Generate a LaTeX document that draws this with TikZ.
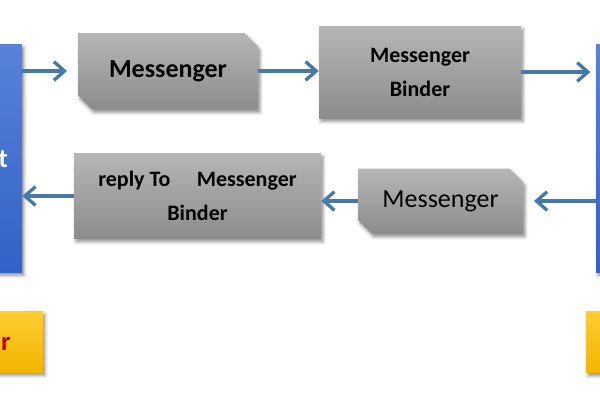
\documentclass[tikz,border=0pt]{standalone}
\usepackage{fontspec}
\setmainfont{Carlito}
\usetikzlibrary{arrows.meta,shapes.misc,shadows.blur}
\definecolor{arrowblue}{RGB}{70,120,170}
\definecolor{boxtop}{RGB}{182,182,182}
\definecolor{boxbot}{RGB}{140,140,140}
\definecolor{bluetop}{RGB}{88,130,218}
\definecolor{bluebot}{RGB}{50,98,200}
\definecolor{yeltop}{RGB}{255,204,50}
\definecolor{yelbot}{RGB}{242,182,0}
\definecolor{darkred}{RGB}{192,0,0}
\tikzset{
  shad/.style={blur shadow={shadow xshift=1.5pt, shadow yshift=-2.5pt, shadow blur radius=2.5pt, shadow opacity=45}},
  graybox/.style={shad, inner sep=0pt, top color=boxtop, bottom color=boxbot, draw=none, align=center},
  snipbox/.style={graybox, chamfered rectangle, chamfered rectangle corners={north east, south west}, chamfered rectangle xsep=7pt},
  bluebar/.style={shad, inner sep=0pt, top color=bluetop, bottom color=bluebot, draw=none, text=white},
  yelbox/.style={shad, inner sep=0pt, top color=yeltop, bottom color=yelbot, draw=none, text=darkred},
  arr/.style={draw=arrowblue, line width=2.5pt, -{Straight Barb[length=8pt,width=14pt]}},
}
\begin{document}
\begin{tikzpicture}[x=0.75pt,y=-0.75pt]
\useasboundingbox (0,0) rectangle (600,400);
\clip (0,0) rectangle (600,400);
% side bars
\node[bluebar, minimum width=69pt, minimum height=171pt, font=\bfseries\fontsize{20}{24}\selectfont] (lbar) at (-24,158) {Client};
\node[bluebar, minimum width=63pt, minimum height=171pt] (rbar) at (638,158) {};
\node[yelbox, minimum width=114.75pt, minimum height=45.75pt, font=\bfseries\fontsize{20}{24}\selectfont] (lyel) at (-33.5,341.5) {Handler};
\node[yelbox, minimum width=78pt, minimum height=45.75pt] (ryel) at (638,342) {};
% boxes
\node[snipbox, minimum width=135pt, minimum height=57pt, font=\bfseries\fontsize{19.5}{24}\selectfont] (m1) at (168,71) {Messenger};
\node[graybox, rectangle, minimum width=151.5pt, minimum height=69pt, font=\bfseries\fontsize{16.5}{25.5}\selectfont] (b1) at (420,72) {Messenger\\Binder};
\node[graybox, rectangle, minimum width=185.25pt, minimum height=63.75pt, font=\bfseries\fontsize{16.5}{25.5}\selectfont] (r1) at (197.5,196) {reply To\hspace{1.2em}Messenger\\Binder};
\node[snipbox, minimum width=123.75pt, minimum height=48.75pt, font=\fontsize{19.5}{24}\selectfont] (m2) at (440.5,201) {Messenger};
% arrows
\draw[arr, shorten >=8pt] (lbar.east |- m1.west) -- (m1.west);
\draw[arr] (m1.east) -- (m1.east -| b1.west);
\draw[arr, shorten >=4pt] (b1.east) -- (rbar.west |- b1.east);
\draw[arr, shorten >=8pt] (rbar.west |- m2.east) -- (m2.east);
\draw[arr] (m2.west) -- (m2.west -| r1.east);
\draw[arr] (r1.west) -- (lbar.east |- r1.west);
\end{tikzpicture}
\end{document}
